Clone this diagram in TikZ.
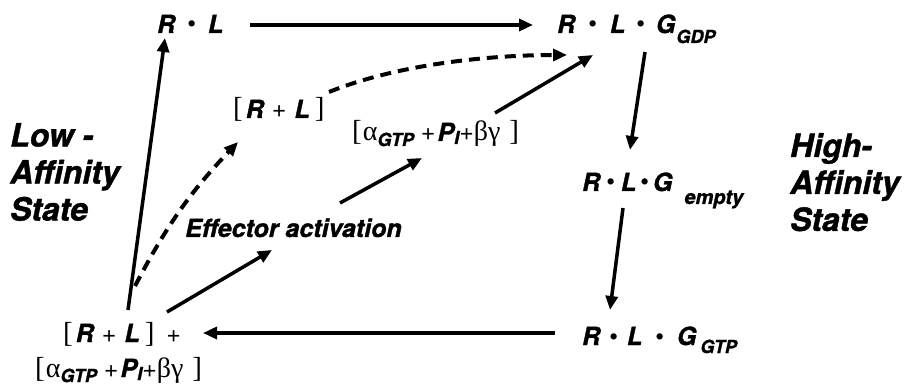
\documentclass[tikz,border=0pt]{standalone}
\usepackage{fontspec}
\setmainfont{TeX Gyre Heros}[BoldItalicFeatures={FakeBold=1.3}]
\newfontfamily\grk{Liberation Serif}
\usepackage{tikz}
\usetikzlibrary{arrows.meta}

\newcommand{\bi}[1]{{\bfseries\itshape #1}}
\newcommand{\brk}[1]{{\grk\fontsize{29}{29}\selectfont #1}}
\newcommand{\gk}[1]{{\grk\fontsize{28}{28}\selectfont #1}}
\newcommand{\bdot}[1]{\hspace{#1}\textbullet\hspace{#1}}
\newcommand{\lowsub}[2]{\raisebox{-#1}{\fontsize{18}{18}\selectfont\bfseries\itshape #2}}
\newcommand{\pls}{{\fontsize{25}{25}\selectfont +}}

\begin{document}
\begin{tikzpicture}[
    x=1pt, y=-1pt,
    lbl/.style={font=\fontsize{25}{29}\selectfont, inner sep=0pt, anchor=base west},
    state/.style={font=\fontsize{32}{37}\selectfont\bfseries\itshape, inner sep=0pt, anchor=north west, align=left},
    eff/.style={font=\fontsize{25}{29}\selectfont\bfseries\itshape, inner sep=0pt, anchor=base west},
    arr/.style={line width=3.5pt, -{Triangle[length=14pt,width=12pt]}},
    darr/.style={arr, line width=4pt, dash pattern=on 11pt off 7pt}
]
    \useasboundingbox (0,0) rectangle (916,390);

    % receptor states
    \node[lbl] (rl) at (157,33) {\bi{R}\bdot{12pt}\bi{L}};
    \node[lbl] (rlgdp) at (557,33) {\bi{R}\bdot{13pt}\bi{L}\bdot{11pt}\bi{G}\hspace{1pt}\lowsub{10pt}{GDP}};
    \node[lbl] (rlgempty) at (582,191) {\bi{R}\bdot{6pt}\bi{L}\bdot{4pt}\bi{G}\hspace{12pt}\lowsub{13pt}{\fontsize{20}{20}\selectfont empty}};
    \node[lbl] (rlggtp) at (582,345) {\bi{R}\bdot{9pt}\bi{L}\bdot{13pt}\bi{G}\hspace{4pt}\lowsub{8pt}{GTP}};

    % dissociated
    \node[lbl] (rlfree) at (63,342) {\brk{[}\hspace{3pt}\bi{R}\hspace{8pt}\pls\hspace{8pt}\bi{L}\hspace{5pt}\brk{]}\hspace{12pt}\pls};
    \node[lbl] (gfree) at (35,377) {\brk{[}\hspace{1pt}\gk{α}\lowsub{5pt}{GTP}\hspace{7pt}\pls\hspace{2pt}\bi{P}\lowsub{3pt}{I}\pls\gk{βγ}\hspace{9pt}\brk{]}};
    \node[lbl] (rlmid) at (233,118) {\brk{[}\hspace{3pt}\bi{R}\hspace{8pt}\pls\hspace{8pt}\bi{L}\hspace{5pt}\brk{]}};
    \node[lbl] (gmid) at (352,141) {\brk{[}\hspace{1pt}\gk{α}\lowsub{5pt}{GTP}\hspace{7pt}\pls\hspace{2pt}\bi{P}\lowsub{3pt}{I}\pls\gk{βγ}\hspace{9pt}\brk{]}};
    \node[eff] (effector) at (185,237) {Effector activation};

    % side labels
    \node[state] (lowaff) at (10,123) {Low -\\Affinity\\State};
    \node[state] (highaff) at (790,133) {High-\\Affinity\\State};

    % cycle
    \draw[arr] ([shift={(93,-8)}]rl.base west) -- ([shift={(-24,-8)}]rlgdp.base west);
    \draw[arr] ([shift={(88,19)}]rlgdp.base west) -- ([shift={(48,-41)}]rlgempty.base west);
    \draw[arr] ([shift={(41,17)}]rlgempty.base west) -- ([shift={(28,-35)}]rlggtp.base west);
    \draw[arr] ([shift={(-27,-12)}]rlggtp.base west) -- ([shift={(140,-9)}]rlfree.base west);
    \draw[arr] ([shift={(65,-32)}]rlfree.base west) -- ([shift={(8,5)}]rl.base west);

    % dashed route
    \draw[darr] ([shift={(72,-56)}]rlfree.base west) to[bend left=8] ([shift={(5,24)}]rlmid.base west);
    \draw[darr] ([shift={(96,-26)}]rlmid.base west) to[out=22,in=180,looseness=0.8] ([shift={(10,22)}]rlgdp.base west);

    % effector route
    \draw[arr] ([shift={(104,-30)}]rlfree.base west) -- ([shift={(87,13)}]effector.base west);
    \draw[arr] ([shift={(155,-34)}]effector.base west) -- ([shift={(70,17)}]gmid.base west);
    \draw[arr] ([shift={(143,-28)}]gmid.base west) -- ([shift={(36,22)}]rlgdp.base west);
\end{tikzpicture}
\end{document}
